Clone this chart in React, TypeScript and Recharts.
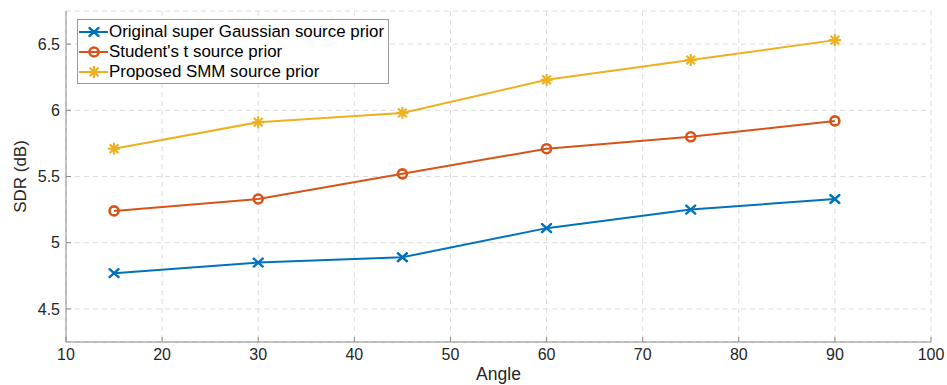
import { LineChart, Line, XAxis, YAxis, CartesianGrid, Legend } from "recharts"

const angles = [15, 30, 45, 60, 75, 90]
const superGaussian = [4.77, 4.85, 4.89, 5.11, 5.25, 5.33]
const studentT = [5.24, 5.33, 5.52, 5.71, 5.8, 5.92]
const proposedSMM = [5.71, 5.91, 5.98, 6.23, 6.38, 6.53]

const xTicks = [10, 20, 30, 40, 50, 60, 70, 80, 90, 100]
const yTicks = [4.5, 5, 5.5, 6, 6.5]

const data = angles.map((a, i) => ({
  angle: a,
  sg: superGaussian[i],
  st: studentT[i],
  smm: proposedSMM[i],
}))

const FONT = "'Liberation Sans', Arial, Helvetica, sans-serif"
const BLUE = "#0072BD"
const ORANGE = "#D95319"
const YELLOW = "#EDB120"

const Cross = ({ cx, cy, color }: any) => (
  <g stroke={color} strokeWidth={2.4} strokeLinecap="round">
    <line x1={cx - 4.5} y1={cy - 4} x2={cx + 4.5} y2={cy + 4} />
    <line x1={cx - 4.5} y1={cy + 4} x2={cx + 4.5} y2={cy - 4} />
  </g>
)

const Circle = ({ cx, cy, color }: any) => (
  <circle cx={cx} cy={cy} r={4.5} fill="none" stroke={color} strokeWidth={2.6} />
)

const Star = ({ cx, cy, color }: any) => (
  <g stroke={color} strokeWidth={2.2}>
    <line x1={cx - 6} y1={cy} x2={cx + 6} y2={cy} />
    <line x1={cx} y1={cy - 6} x2={cx} y2={cy + 6} />
    <line x1={cx - 4.3} y1={cy - 4.3} x2={cx + 4.3} y2={cy + 4.3} />
    <line x1={cx - 4.3} y1={cy + 4.3} x2={cx + 4.3} y2={cy - 4.3} />
  </g>
)

const series = [
  { key: "sg", name: "Original super Gaussian source prior", color: BLUE, Marker: Cross },
  { key: "st", name: "Student's t source prior", color: ORANGE, Marker: Circle },
  { key: "smm", name: "Proposed SMM source prior", color: YELLOW, Marker: Star },
]

const LegendBox = () => (
  <div
    style={{
      border: "1px solid #9a9a9a",
      background: "#fff",
      padding: "2px 4px 1px 0px",
      fontFamily: FONT,
      fontSize: 16.9,
      color: "#000",
      lineHeight: "20px",
    }}
  >
    {series.map((s) => (
      <div key={s.key} style={{ display: "flex", alignItems: "center" }}>
        <svg width={31} height={20}>
          <line x1={1} y1={10} x2={30} y2={10} stroke={s.color} strokeWidth={2} />
          <s.Marker cx={16} cy={10} color={s.color} />
        </svg>
        <span style={{ whiteSpace: "nowrap" }}>{s.name}</span>
      </div>
    ))}
  </div>
)

const noLabel = () => <g />

export default function App() {
  return (
    <div style={{ position: "absolute", left: 0, top: 0, background: "#fff" }}>
      <LineChart
        width={947}
        height={385}
        data={data}
        margin={{ top: 11, right: 16, left: 0, bottom: 0 }}
      >
        <CartesianGrid stroke="#dcdcdc" strokeDasharray="5 4" />
        <XAxis
          dataKey="angle"
          type="number"
          domain={[10, 100]}
          ticks={xTicks}
          height={43}
          stroke="#8a8a8a"
          tickSize={-5}
          tickMargin={12}
          tick={{ fill: "#262626", fontSize: 16, fontFamily: FONT }}
          label={{
            value: "Angle",
            position: "insideBottom",
            offset: 5,
            style: { fill: "#262626", fontSize: 17.5, fontFamily: FONT },
          }}
        />
        <XAxis
          xAxisId="top"
          dataKey="angle"
          type="number"
          orientation="top"
          domain={[10, 100]}
          ticks={xTicks}
          height={0}
          stroke="#8a8a8a"
          tickSize={-5}
          tick={noLabel}
        />
        <YAxis
          type="number"
          domain={[4.25, 6.75]}
          ticks={yTicks}
          width={66}
          stroke="#8a8a8a"
          tickSize={-5}
          tickMargin={11}
          tick={{ fill: "#262626", fontSize: 16, fontFamily: FONT }}
          label={{
            value: "SDR (dB)",
            angle: -90,
            position: "insideLeft",
            offset: 20,
            style: { fill: "#262626", fontSize: 17, fontFamily: FONT, textAnchor: "middle" },
          }}
        />
        <YAxis
          yAxisId="right"
          type="number"
          orientation="right"
          domain={[4.25, 6.75]}
          ticks={yTicks}
          width={0}
          stroke="#8a8a8a"
          tickSize={-5}
          tick={noLabel}
        />
        <Legend
          layout="horizontal"
          verticalAlign="middle"
          align="center"
          content={<LegendBox />}
          wrapperStyle={{ left: 77, top: 19, width: "auto" }}
        />
        {series.map((s) => (
          <Line
            key={s.key}
            dataKey={s.key}
            name={s.name}
            stroke={s.color}
            strokeWidth={2}
            isAnimationActive={false}
            dot={(p: any) => <s.Marker key={p.index} cx={p.cx} cy={p.cy} color={s.color} />}
            activeDot={false}
          />
        ))}
      </LineChart>
    </div>
  )
}
